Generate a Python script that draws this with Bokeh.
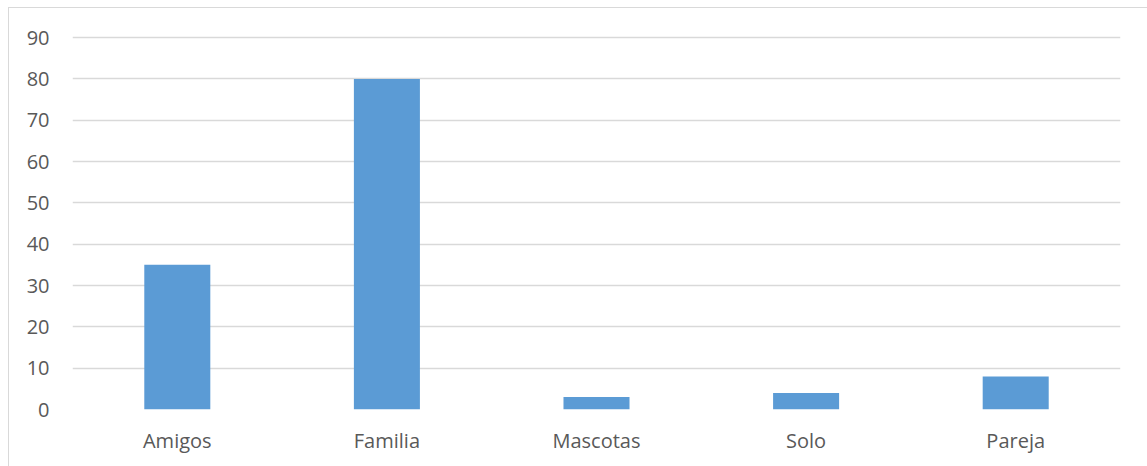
from bokeh.plotting import figure
from bokeh.models import FixedTicker, ColumnDataSource
from bokeh.embed import file_html
from bokeh.resources import INLINE

categories = ["Amigos", "Familia", "Mascotas", "Solo", "Pareja"]
values = [35, 80, 3, 4, 8]
y_ticks = [0, 10, 20, 30, 40, 50, 60, 70, 80, 90]

src = ColumnDataSource(data=dict(cat=categories, val=values))

p = figure(x_range=categories, y_range=(0, 90.5), width=1139, height=459,
           output_backend="svg", toolbar_location=None, tools="",
           min_border_left=63, min_border_right=28, min_border_top=27,
           min_border_bottom=58, margin=(7, 0, 0, 8))
p.styles = {"border-left": "1px solid #d9d9d9", "border-top": "1px solid #d9d9d9"}
p.outline_line_color = None
p.background_fill_color = "white"
p.border_fill_color = "white"

p.vbar(x="cat", top="val", width=0.315, source=src, fill_color="#5b9bd5",
       line_color=None)

p.yaxis.ticker = FixedTicker(ticks=y_ticks)
p.ygrid.ticker = FixedTicker(ticks=y_ticks)
p.ygrid.grid_line_color = "#d9d9d9"
p.ygrid.grid_line_width = 1.5
p.xgrid.grid_line_color = None

for ax in (p.xaxis[0], p.yaxis[0]):
    ax.axis_line_color = None
    ax.major_tick_line_color = None
    ax.minor_tick_line_color = None
    ax.major_tick_out = 0
    ax.major_tick_in = 0
    ax.major_label_text_font = "Open Sans"
    ax.major_label_text_font_size = "20px"
    ax.major_label_text_color = "#595959"
p.yaxis.major_label_standoff = 23
p.xaxis.major_label_standoff = 17

open("out.html", "w").write(file_html(p, INLINE))
